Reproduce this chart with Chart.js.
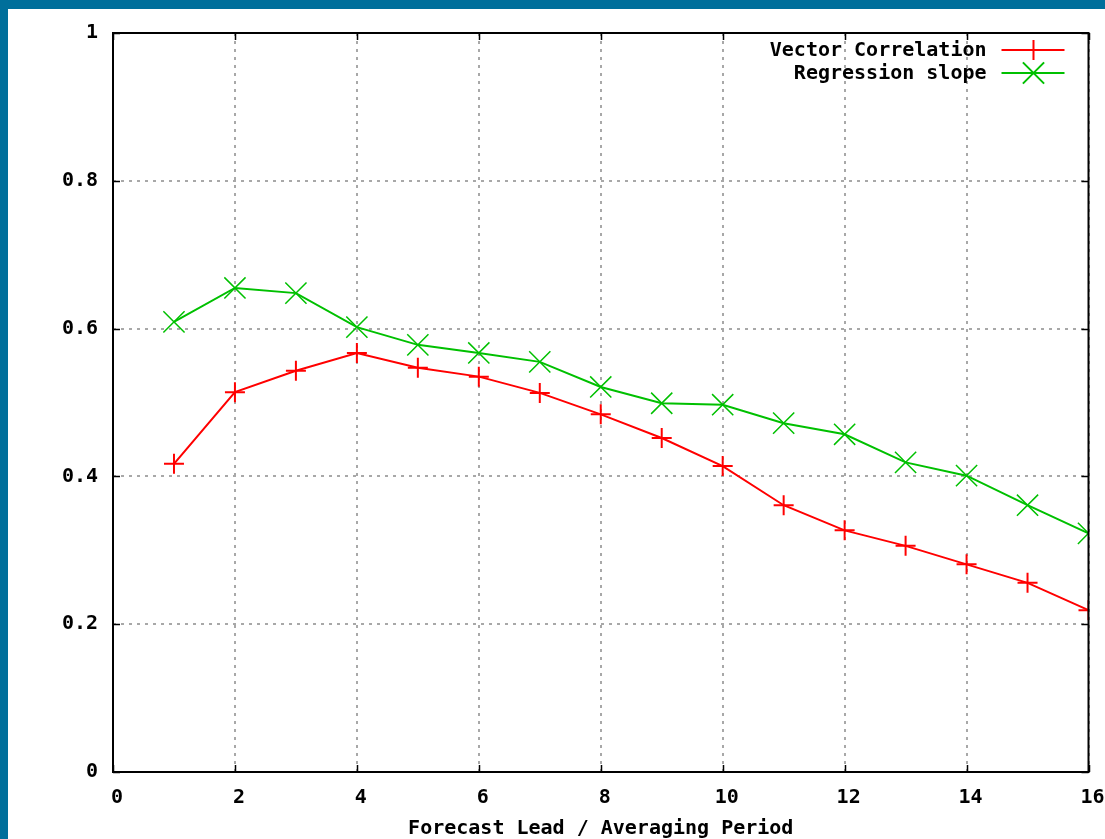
<!DOCTYPE html>
<html>
<head>
<meta charset="utf-8">
<script src="https://cdn.jsdelivr.net/npm/chart.js@4/dist/chart.umd.min.js"></script>
<style>
  html, body { margin: 0; padding: 0; background: #006f9b; width: 1105px; height: 839px; overflow: hidden; }
  #wrap { position: absolute; left: 8px; top: 9px; width: 1097px; height: 830px; background: #ffffff; }
</style>
</head>
<body>
<div id="wrap"><canvas id="c" width="1097" height="830"></canvas></div>
<script>
const leads = [1, 2, 3, 4, 5, 6, 7, 8, 9, 10, 11, 12, 13, 14, 15, 16];
const vectorCorrelation = [0.417, 0.514, 0.543, 0.567, 0.547, 0.535, 0.513, 0.484, 0.452, 0.414, 0.361, 0.327, 0.306, 0.281, 0.256, 0.219];
const regressionSlope = [0.609, 0.655, 0.648, 0.602, 0.578, 0.567, 0.555, 0.521, 0.499, 0.497, 0.472, 0.457, 0.419, 0.401, 0.361, 0.323];
const seriesNames = ['Vector Correlation', 'Regression slope'];
const xAxisTitle = 'Forecast Lead / Averaging Period';
const xTickValues = [0, 2, 4, 6, 8, 10, 12, 14, 16];
const yTickValues = [0, 0.2, 0.4, 0.6, 0.8, 1];

const FONT = '"DejaVu Sans Mono", "Liberation Mono", monospace';

const framePlugin = {
  id: 'frame',
  afterDraw(chart) {
    const ctx = chart.ctx;
    const a = chart.chartArea;
    const xs = chart.scales.x, ys = chart.scales.y;
    ctx.save();
    ctx.strokeStyle = '#000';
    ctx.lineWidth = 1.5;
    ctx.setLineDash([]);
    // inward ticks
    const tl = 7;
    ctx.beginPath();
    xTickValues.forEach(v => {
      const px = Math.round(xs.getPixelForValue(v)) + 0.5;
      ctx.moveTo(px, a.bottom); ctx.lineTo(px, a.bottom - tl);
      ctx.moveTo(px, a.top); ctx.lineTo(px, a.top + tl);
    });
    yTickValues.forEach(v => {
      const py = Math.round(ys.getPixelForValue(v)) + 0.5;
      ctx.moveTo(a.left, py); ctx.lineTo(a.left + tl, py);
      ctx.moveTo(a.right, py); ctx.lineTo(a.right - tl, py);
    });
    ctx.stroke();
    // border
    ctx.lineWidth = 2;
    ctx.strokeRect(a.left, a.top, a.right - a.left, a.bottom - a.top);

    // legend
    ctx.font = 'bold 20px ' + FONT;
    ctx.textAlign = 'right';
    ctx.textBaseline = 'middle';
    chart.data.datasets.forEach((ds, i) => {
      const y = a.top + 17 + i * 23;
      ctx.fillStyle = '#000';
      ctx.fillText(ds.label, a.right - 102, y + 1);
      ctx.strokeStyle = ds.borderColor;
      ctx.lineWidth = 2;
      ctx.beginPath();
      ctx.moveTo(a.right - 87, y); ctx.lineTo(a.right - 24, y);
      ctx.stroke();
      Chart.helpers.drawPoint(ctx, {
        pointStyle: ds.pointStyle, radius: ds.pointRadius, rotation: 0,
        borderWidth: ds.pointBorderWidth
      }, a.right - 55, y);
    });
    ctx.restore();
  }
};

const ctx = document.getElementById('c').getContext('2d');
new Chart(ctx, {
  type: 'line',
  data: {
    datasets: [
      {
        label: seriesNames[0],
        data: leads.map((x, i) => ({ x, y: vectorCorrelation[i] })),
        borderColor: '#ff0000',
        backgroundColor: '#ff0000',
        borderWidth: 2,
        pointStyle: 'cross',
        pointRadius: 10,
        pointHoverRadius: 10,
        pointBorderWidth: 2,
        pointBorderColor: '#ff0000',
        tension: 0,
        fill: false
      },
      {
        label: seriesNames[1],
        data: leads.map((x, i) => ({ x, y: regressionSlope[i] })),
        borderColor: '#00c000',
        backgroundColor: '#00c000',
        borderWidth: 2,
        pointStyle: 'crossRot',
        pointRadius: 15,
        pointHoverRadius: 15,
        pointBorderWidth: 1.5,
        pointBorderColor: '#00c000',
        tension: 0,
        fill: false
      }
    ]
  },
  options: {
    responsive: false,
    animation: false,
    events: [],
    layout: { padding: { left: 0, top: 24, right: 13, bottom: 0 } },
    plugins: { legend: { display: false }, tooltip: { enabled: false } },
    scales: {
      x: {
        type: 'linear',
        min: 0, max: 16,
        afterBuildTicks: s => { s.ticks = xTickValues.map(v => ({ value: v })); },
        afterFit: s => { s.height = 67; s.paddingLeft = 0; s.paddingRight = 0; },
        ticks: {
          color: '#000',
          font: { family: FONT, size: 20, weight: 'bold' },
          padding: 14,
          labelOffset: 4,
          maxRotation: 0,
          autoSkip: false
        },
        grid: { color: '#a8a8a8', lineWidth: 2, drawTicks: false },
        border: { display: false, dash: [3, 5] },
        title: {
          display: true, text: xAxisTitle, color: '#000',
          font: { family: FONT, size: 20, weight: 'bold', lineHeight: 1 },
          padding: { top: 0, bottom: 0 }
        }
      },
      y: {
        type: 'linear',
        min: 0, max: 1,
        afterBuildTicks: s => { s.ticks = yTickValues.map(v => ({ value: v })); },
        afterFit: s => { s.width = 105; s.paddingTop = 0; s.paddingBottom = 0; },
        ticks: {
          color: '#000',
          font: { family: FONT, size: 20, weight: 'bold' },
          padding: 15,
          callback: v => String(Math.round(v * 10) / 10)
        },
        grid: { color: '#a8a8a8', lineWidth: 2, drawTicks: false },
        border: { display: false, dash: [3, 5] }
      }
    }
  },
  plugins: [framePlugin]
});
</script>
</body>
</html>
